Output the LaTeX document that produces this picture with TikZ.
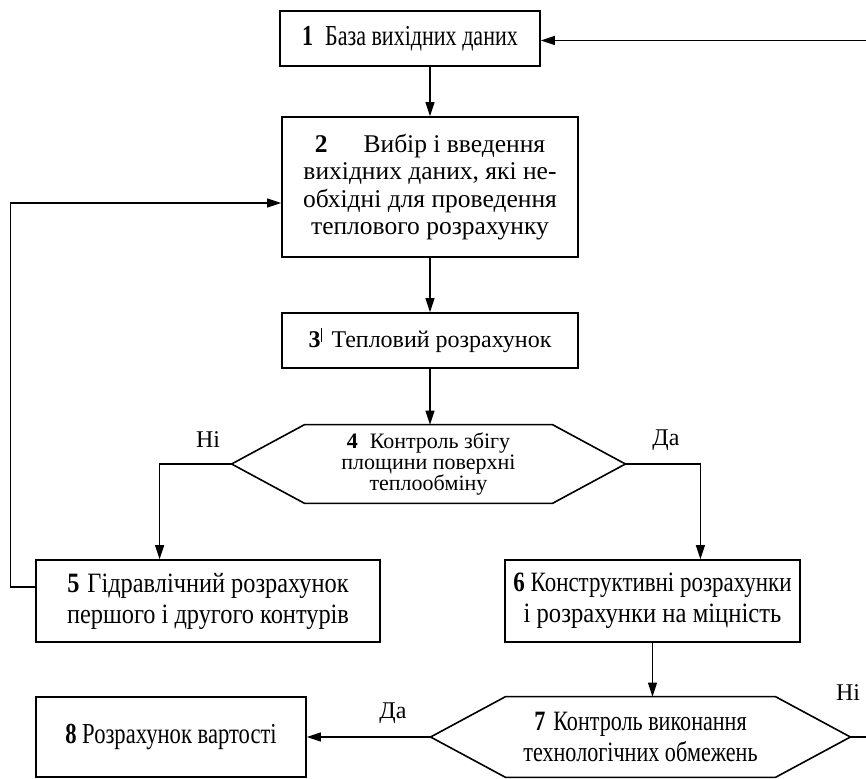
\documentclass[tikz,border=0pt]{standalone}
\usepackage{fontspec}
\setmainfont{Liberation Serif}
\usepackage{tikz}
\usetikzlibrary{arrows.meta, positioning, calc}

\begin{document}
\begin{tikzpicture}[x=1pt, y=1pt,
    box/.style={draw, line width=0.8pt, align=center, inner sep=1pt},
    hexa/.style={align=center, inner sep=1pt},
    arr/.style={line width=0.6pt, -{Triangle[length=7pt, width=4.5pt]}},
    lbl/.style={font=\fontsize{12}{13}\selectfont, inner sep=1pt}]
    \useasboundingbox (0,0) rectangle (433,-389.5);

    % blocks
    \node[box, minimum width=130pt, minimum height=27.5pt,
        font=\fontsize{14.5}{15}\selectfont\addfontfeature{FakeStretch=0.76}] (B1) at (205,-19.25)
        {\textbf{1}\hspace{6pt}База вихідних даних};
    \node[box, minimum width=148pt, minimum height=70pt, font=\fontsize{12.75}{13.75}\selectfont] (B2) at (215,-93.5)
        {\textbf{2}\hspace{18pt}Вибір і введення\\ вихідних даних, які не-\\ обхідні для проведення\\ теплового розрахунку};
    \node[box, minimum width=148pt, minimum height=27.5pt, font=\fontsize{12}{13}\selectfont] (B3) at (215,-170.25)
        {\textbf{3}\raisebox{0.25em}{\rule{0.5pt}{0.55em}}\hspace{5pt}Тепловий розрахунок};
    \node[hexa, minimum width=196.5pt, minimum height=39pt, font=\fontsize{11}{10.5}\selectfont] (D4) at (214.25,-232)
        {\textbf{4}\hspace{6pt}Контроль збігу\\ площини поверхні\\ теплообміну};
    \node[box, minimum width=172pt, minimum height=41pt,
        font=\fontsize{14}{15.5}\selectfont\addfontfeature{FakeStretch=0.87}] (B5) at (104,-300.5)
        {\textbf{5}\hspace{4pt}Гідравлічний розрахунок\\ першого і другого контурів};
    \node[box, minimum width=147.5pt, minimum height=41pt, font=\fontsize{14}{15.5}\selectfont] (B6) at (326.25,-300.5)
        {{\addfontfeature{FakeStretch=0.82}\textbf{6} Конструктивні розрахунки}\\
         {\addfontfeature{FakeStretch=0.88}і розрахунки на міцність}};
    \node[hexa, minimum width=209.5pt, minimum height=40pt,
        font=\fontsize{14}{15.5}\selectfont\addfontfeature{FakeStretch=0.79}] (D7) at (320.25,-368.5)
        {\textbf{7}\hspace{4pt}Контроль виконання\\ технологічних обмежень};
    \node[box, minimum width=135pt, minimum height=40pt,
        font=\fontsize{14.5}{15}\selectfont\addfontfeature{FakeStretch=0.78}] (B8) at (85.5,-368.5)
        {\textbf{8} Розрахунок вартості};

    % hexagon frames of the checks
    \foreach \n/\s in {D4/36.5, D7/37.5}
        \draw[line width=0.8pt] (\n.west) -- ($(\n.north west)+(\s,0)$) -- ($(\n.north east)+(-\s,0)$)
            -- (\n.east) -- ($(\n.south east)+(-\s,0)$) -- ($(\n.south west)+(\s,0)$) -- cycle;

    % connectors
    \draw[arr] (B2.north |- B1.south) -- (B2.north);
    \draw[arr] (B2.south) -- (B3.north);
    \draw[arr] (B3.south) -- (B3.south |- D4.north);
    \draw[arr] (D4.west) -- ++(-36,0) coordinate (nL) -- (nL |- B5.north);
    \draw[arr] (D4.east) -- ++(37.5,0) coordinate (nR) -- (nR |- B6.north);
    \draw[arr] (B6.south) -- (B6.south |- D7.north);
    \draw[arr] (D7.west) -- (B8.east);
    \draw[arr] (D7.east) -- ++(25,0) coordinate (nE) |- ([yshift=-1pt]B1.east);
    \draw[arr] ([yshift=7pt]B5.west) -- ++(-12.5,0) coordinate (nW) |- ([yshift=-8pt]B2.west);

    % labels
    \node[lbl] (no1) at (104,-220) {Ні};
    \node[lbl] (yes1) at (333,-220) {Да};
    \node[lbl] (yes2) at (196.5,-356.5) {Да};
    \node[lbl] (no2) at (424,-346.5) {Ні};
\end{tikzpicture}
\end{document}
